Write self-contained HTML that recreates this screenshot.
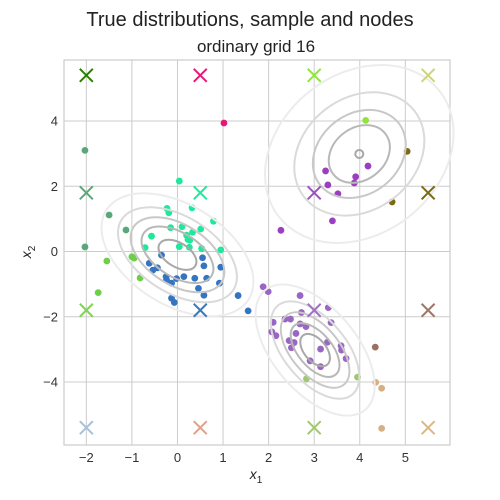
<!DOCTYPE html>
<html><head><meta charset="utf-8"><style>
body{margin:0;background:#fff;}
svg{display:block;font-family:"Liberation Sans",sans-serif;}
</style></head><body>
<svg id="chart" width="500" height="500"></svg>
<script>
const xTicks=[-2,-1,0,1,2,3,4,5];
const yTicks=[-4,-2,0,2,4];
const nodeX=[-2,0.5,3,5.5];
const nodeY=[5.4,1.8,-1.8,-5.4];
const nodeColors=[["#2e7d00","#e8157a","#8ee63c","#ccd47c"],["#5aa87a","#1ee89c","#9b4fc0","#7a6a10"],["#7ad84a","#3a78c0","#a070c8","#a07868"],["#a8c0d8","#e0a088","#a0c870","#d8b888"]];
const ptsGrayGreen=[[-2.03,3.1],[-1.5,1.12],[-1.13,0.66],[-2.03,0.14]];
const ptsLightGreen=[[-1.55,-0.29],[-1.74,-1.26],[-0.82,-0.81],[-1.0,-0.16],[-0.95,-0.2]];
const ptsTeal=[[0.04,2.16],[-0.23,1.32],[-0.19,1.19],[0.32,1.34],[0.79,0.93],[-0.15,0.73],[0.1,0.76],[0.33,0.59],[0.51,0.69],[0.2,0.5],[0.27,0.35],[0.23,0.37],[-0.57,0.47],[-0.71,0.12],[0.04,0.15],[0.26,0.13],[0.53,0.09],[0.95,0.05]];
const ptsBlue=[[-0.35,-0.11],[0.55,-0.19],[0.58,-0.44],[0.95,-0.48],[-0.62,-0.36],[-0.54,-0.57],[-0.44,-0.5],[-0.25,-0.77],[-0.24,-0.87],[-0.13,-0.97],[-0.02,-0.83],[0.14,-0.77],[0.38,-0.82],[0.64,-0.82],[0.46,-1.13],[0.92,-0.97],[0.58,-1.34],[-0.13,-1.43],[-0.07,-1.56],[1.33,-1.35],[1.55,-1.82]];
const ptsPurple=[[1.88,-1.08],[1.99,-1.23],[2.69,-1.35],[2.72,-1.87],[3.31,-1.72],[2.1,-2.17],[2.36,-2.07],[2.48,-2.07],[2.69,-2.22],[2.82,-2.3],[3.37,-2.18],[2.07,-2.46],[2.16,-2.58],[2.6,-2.51],[2.45,-2.73],[2.56,-2.79],[2.5,-2.95],[3.29,-2.78],[3.59,-2.89],[3.6,-3.02],[3.7,-3.28],[3.14,-2.99],[2.91,-3.35],[3.14,-3.53]];
const ptsBrown=[[4.34,-2.93]];
const ptsOliveGreen=[[2.83,-3.9],[3.95,-3.85]];
const ptsTan=[[4.35,-4.01],[4.48,-4.19],[4.48,-5.42]];
const ptsLime=[[4.13,4.02]];
const ptsOlive=[[5.04,3.07],[4.71,1.52]];
const ptsMagenta=[[4.18,2.62],[3.25,2.47],[3.91,2.29],[3.88,2.1],[3.3,2.04],[3.52,1.77],[3.4,0.94],[2.27,0.65]];
const ptsPink=[[1.02,3.94]];
const clusterCenters=[[0,-0.1],[3.02,-3.02],[3.99,2.99]];
const clusterAngles=[32,50,-38];
const clusterA=[[21,40,52,66,84],[19,32,45,58,78],[4,33,50,70,102]];
const clusterB=[[12,22,30,38,50],[11,17,24,31,42],[4,26,40,56,80]];
const levelColors=["#a8a8a8","#b8b8b8","#c8c8c8","#dadada","#ececec"];

const NS="http://www.w3.org/2000/svg";
const svg=document.getElementById('chart');
const L=64,R=450,T=60,B=445;
const xmin=-2.49,xmax=5.98,ymin=-5.93,ymax=5.87;
const sx=v=>L+(v-xmin)/(xmax-xmin)*(R-L);
const sy=v=>B-(v-ymin)/(ymax-ymin)*(B-T);
function mk(tag,attrs,parent){const e=document.createElementNS(NS,tag);for(const k in attrs)e.setAttribute(k,attrs[k]);(parent||svg).appendChild(e);return e;}

const title=mk('text',{x:250,y:26,'text-anchor':'middle','font-size':20,fill:'#222'});


title.textContent='True distributions, sample and nodes';
const sub=mk('text',{x:256,y:52,'text-anchor':'middle','font-size':17,fill:'#222'});


sub.textContent='ordinary grid 16';

const grid=mk('g',{});


xTicks.forEach(t=>{
  const l=mk('line',{x1:sx(t),x2:sx(t),y1:T,y2:B,stroke:'#cccccc','stroke-width':1},grid);
  
  
  const tx=mk('text',{x:sx(t),y:B+17,'text-anchor':'middle','font-size':13,fill:'#333'});
  
  
  tx.textContent=(t<0?'\u2212'+(-t):t);
});
yTicks.forEach(t=>{
  const l=mk('line',{x1:L,x2:R,y1:sy(t),y2:sy(t),stroke:'#cccccc','stroke-width':1},grid);
  
  
  const tx=mk('text',{x:L-6,y:sy(t)+4.5,'text-anchor':'end','font-size':13,fill:'#333'});
  
  
  tx.textContent=(t<0?'\u2212'+(-t):t);
});
const frame=mk('rect',{x:L,y:T,width:R-L,height:B-T,fill:'none',stroke:'#cccccc','stroke-width':1.2});



const xl=mk('text',{x:256,y:479,'text-anchor':'middle','font-size':14,'font-style':'italic',fill:'#222'});


xl.innerHTML='x<tspan font-size="10" dy="4" font-style="normal">1</tspan>';
const yl=mk('text',{x:0,y:0,'text-anchor':'middle','font-size':14,'font-style':'italic',fill:'#222',transform:'translate(31,252) rotate(-90)'});


yl.innerHTML='x<tspan font-size="10" dy="4" font-style="normal">2</tspan>';

function drawPts(arr,color,name){
  arr.forEach(p=>{
    const c=mk('circle',{cx:sx(p[0]),cy:sy(p[1]),r:3.4,fill:color});
    
    
  });
}
drawPts(ptsGrayGreen,'#5aa87a','sample-point-graygreen');
drawPts(ptsLightGreen,'#6ccf48','sample-point-lightgreen');
drawPts(ptsTeal,'#1ee89c','sample-point-teal');
drawPts(ptsBlue,'#3474c0','sample-point-blue');
drawPts(ptsPurple,'#9a66c4','sample-point-purple');
drawPts(ptsBrown,'#9a7060','sample-point-brown');
drawPts(ptsOliveGreen,'#a0c870','sample-point-olivegreen');
drawPts(ptsTan,'#d8b080','sample-point-tan');
drawPts(ptsLime,'#8ee63c','sample-point-lime');
drawPts(ptsOlive,'#7a6a10','sample-point-olive');
drawPts(ptsMagenta,'#9b3fc0','sample-point-magenta');
drawPts(ptsPink,'#e8157a','sample-point-pink');

clusterCenters.forEach((c,i)=>{
  const g=mk('g',{});
  
  
  for(let k=clusterA[i].length-1;k>=0;k--){
    const e=mk('ellipse',{cx:0,cy:0,rx:clusterA[i][k],ry:clusterB[i][k],fill:'none',stroke:levelColors[k],'stroke-width':2,
      transform:`translate(${sx(c[0])},${sy(c[1])}) rotate(${clusterAngles[i]})`},g);
    
    
  }
});

nodeY.forEach((y,r)=>nodeX.forEach((x,ci)=>{
  const px=sx(x),py=sy(y),s=6.5,col=nodeColors[r][ci];
  const g=mk('g',{stroke:col,'stroke-width':2});
  
  
  mk('line',{x1:px-s,y1:py-s,x2:px+s,y2:py+s},g);
  mk('line',{x1:px-s,y1:py+s,x2:px+s,y2:py-s},g);
}));
</script>
</body></html>
